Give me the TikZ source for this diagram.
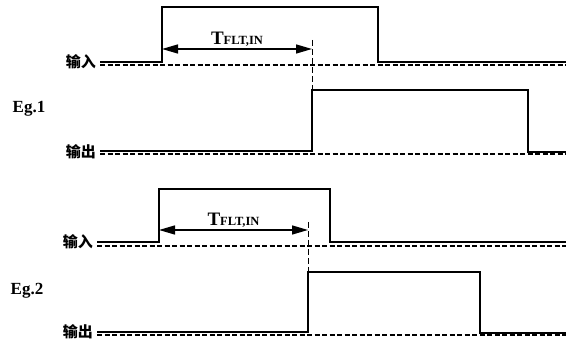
\documentclass[tikz,border=0pt]{standalone}
\usepackage{fontspec}
\setmainfont{Liberation Serif}
\newfontfamily\cjk{Noto Sans CJK SC}
\usetikzlibrary{arrows.meta}

\tikzset{
  signal/.style={line width=1.4pt},
  baseline/.style={line width=1.3pt, dash pattern=on 5pt off 2.5pt},
  marker/.style={line width=0.9pt, dash pattern=on 6pt off 3pt},
  delay/.style={line width=1.4pt, {Triangle[length=16pt,width=9pt]}-{Triangle[length=16pt,width=9pt]}},
  chn/.style={font=\cjk\bfseries\fontsize{15}{15}\selectfont, anchor=east, inner sep=1pt},
  eglabel/.style={font=\bfseries\fontsize{17}{17}\selectfont},
  tlabel/.style={font=\bfseries\fontsize{19}{19}\selectfont, above, inner sep=2pt},
}
\newcommand{\tflt}{T{\fontsize{12.5}{12.5}\selectfont FLT,IN}}

\begin{document}
\begin{tikzpicture}[x=1pt,y=-1pt]
  \useasboundingbox (0,0) rectangle (566,344);

  % Eg.1
  \node[eglabel] (eg1) at (29,109) {Eg.1};
  \node[chn] (in1) at (97,62) {输入};
  \node[chn] (out1) at (97,152) {输出};
  \coordinate (start1) at (162,49);
  \coordinate (end1) at (312,49);
  \coordinate (mtop1) at (312,40);
  \coordinate (mbot1) at (312,151);

  \draw[signal] (100,62) -- (162,62) -- (162,7) -- (378,7) -- (378,62) -- (566,62);
  \draw[baseline] (100,65) -- (566,65);
  \draw[signal] (100,151) -- (312,151) -- (312,90) -- (528,90) -- (528,152) -- (566,152);
  \draw[baseline] (100,154) -- (566,154);
  \draw[marker] (mtop1) -- (mbot1);
  \draw[delay] (start1) -- node[tlabel] (t1) {\tflt} (end1);

  % Eg.2
  \node[eglabel] (eg2) at (27,291) {Eg.2};
  \node[chn] (in2) at (94,242) {输入};
  \node[chn] (out2) at (94,332) {输出};
  \coordinate (start2) at (159,230);
  \coordinate (end2) at (308,230);
  \coordinate (mtop2) at (308,222);
  \coordinate (mbot2) at (308,332);

  \draw[signal] (97,242) -- (159,242) -- (159,189) -- (330,189) -- (330,242) -- (566,242);
  \draw[baseline] (97,246) -- (566,246);
  \draw[signal] (97,332) -- (308,332) -- (308,272) -- (480,272) -- (480,333) -- (566,333);
  \draw[baseline] (97,335) -- (566,335);
  \draw[marker] (mtop2) -- (mbot2);
  \draw[delay] (start2) -- node[tlabel] (t2) {\tflt} (end2);
\end{tikzpicture}
\end{document}
